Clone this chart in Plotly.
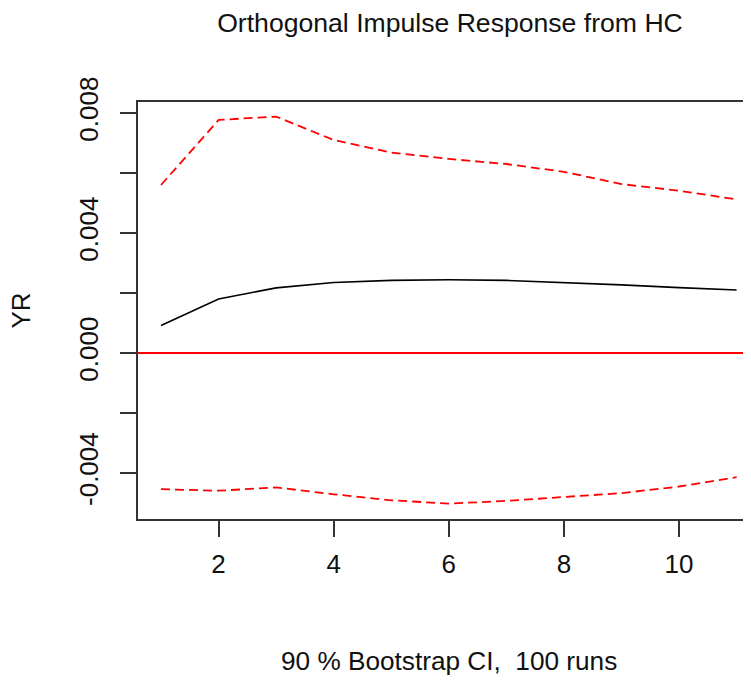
import plotly.graph_objects as go

# Data
horizon = [1, 2, 3, 4, 5, 6, 7, 8, 9, 10, 11]
irf = [0.00092, 0.00180, 0.00217, 0.00235, 0.00242, 0.00244, 0.00242, 0.00235, 0.00227, 0.00218, 0.00210]
upper = [0.00560, 0.00777, 0.00788, 0.00710, 0.00668, 0.00647, 0.00630, 0.00604, 0.00563, 0.00541, 0.00512]
lower = [-0.00454, -0.00459, -0.00448, -0.00471, -0.00491, -0.00502, -0.00493, -0.00480, -0.00467, -0.00445, -0.00414]

x_ticks = [2, 4, 6, 8, 10]
y_ticks = [-0.004, -0.002, 0.0, 0.002, 0.004, 0.006, 0.008]
y_ticklabels = ["-0.004", "", "0.000", "", "0.004", "", "0.008"]

title_text = "Orthogonal Impulse Response from HC"
x_title = "90 % Bootstrap CI,\u00a0 100 runs"
y_title = "YR"

FONT = "Liberation Sans, Arial, Helvetica, sans-serif"

# page has an 8px body margin; figure coordinates are offset accordingly
W, H = 743, 673
L, T, B = 130, 94, 162
PW = W - L
PH = H - T - B

fig = go.Figure()
fig.add_trace(go.Scatter(x=horizon, y=upper, mode="lines",
                         line=dict(color="red", width=1.8, dash="9px,5px"), showlegend=False))
fig.add_trace(go.Scatter(x=horizon, y=lower, mode="lines",
                         line=dict(color="red", width=1.8, dash="9px,5px"), showlegend=False))
fig.add_trace(go.Scatter(x=horizon, y=irf, mode="lines",
                         line=dict(color="black", width=1.6), showlegend=False))

fig.update_layout(
    width=W, height=H,
    margin=dict(l=L, r=0, t=T, b=B, pad=0),
    paper_bgcolor="white", plot_bgcolor="white",
    font=dict(family=FONT, color="black"),
    title=dict(text=title_text, x=442/W, xref="container", xanchor="center",
               y=1 - 14.7/H, yref="container", yanchor="middle",
               font=dict(size=26.6, color="#111")),
    xaxis=dict(range=[0.6, 11.25], tickvals=x_ticks, ticktext=[str(v) for v in x_ticks],
               ticks="outside", ticklen=16, tickwidth=1.5, tickcolor="#333",
               showline=True, linecolor="#333", linewidth=1.5, mirror=True,
               showgrid=False, zeroline=False, tickfont=dict(size=26, color="#111"),
               ticklabelstandoff=5),
    yaxis=dict(range=[-0.005533, 0.008367], tickvals=y_ticks, ticktext=y_ticklabels,
               ticks="outside", ticklen=16, tickwidth=1.5, tickcolor="#333",
               showline=True, linecolor="#333", linewidth=1.5, mirror=False,
               showgrid=False, zeroline=True, zerolinecolor="red", zerolinewidth=1.5,
               tickangle=-90, tickfont=dict(size=26, color="#111"),
               ticklabelstandoff=12),
    annotations=[
        dict(text=x_title, xref="paper", yref="paper", x=(441 - L)/PW, y=-(653 - (T + PH))/PH,
             xanchor="center", yanchor="middle", showarrow=False,
             font=dict(size=26.2, color="#111")),
        dict(text=y_title, xref="paper", yref="paper", x=(12 - L)/PW, y=0.5,
             xanchor="center", yanchor="middle", showarrow=False, textangle=-90,
             font=dict(size=26, color="#111")),
    ],
)

fig.write_html("out.html")
